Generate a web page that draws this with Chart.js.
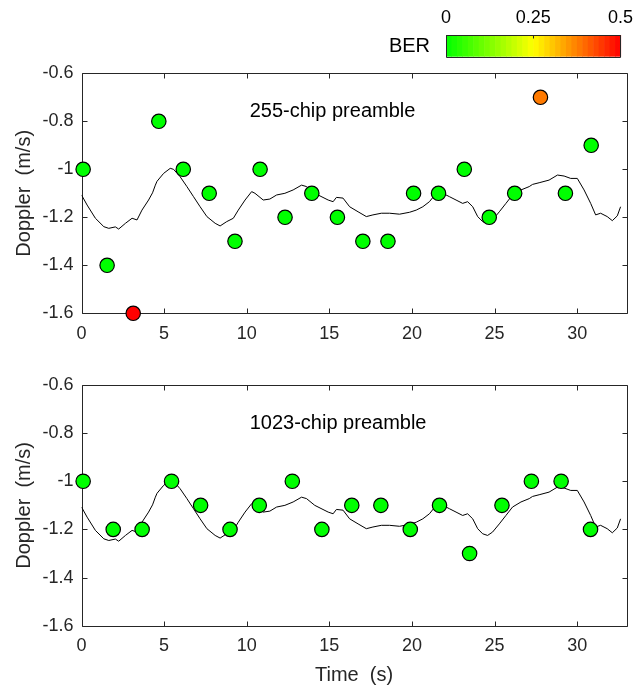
<!DOCTYPE html>
<html><head><meta charset="utf-8">
<script src="https://cdn.jsdelivr.net/npm/chart.js@4.4.0/dist/chart.umd.min.js"></script>
<style>
html,body{margin:0;padding:0;background:#fff;}
#wrap{position:relative;width:639px;height:688px;overflow:hidden;background:#fff;}
canvas{position:absolute;left:0;}
</style></head><body>
<div id="wrap">
<canvas id="cb" width="639" height="62" style="top:0px"></canvas>
<canvas id="c1" width="639" height="300" style="top:50px"></canvas>
<canvas id="c2" width="639" height="348" style="top:340px"></canvas>
</div>
<script>
// ---- data ----
const xTicks = [0, 5, 10, 15, 20, 25, 30];
const xTickLabels = ['0', '5', '10', '15', '20', '25', '30'];
const yTicks = [-1.6, -1.4, -1.2, -1, -0.8, -0.6];
const yTickLabels = ['-1.6', '-1.4', '-1.2', '-1', '-0.8', '-0.6'];
const berTicks = [0, 0.25, 0.5];
const berTickLabels = ['0', '0.25', '0.5'];

// estimated Doppler trace (black line), same in both panels
const dopplerTime = [0, 0.34, 0.84, 1.35, 1.65, 2.05, 2.25, 2.66, 3.06, 3.36, 3.66, 4.06, 4.3, 4.47, 4.57, 4.97, 5.37, 5.57, 5.97, 6.38, 6.78, 7.18, 7.59, 8.09, 8.39, 8.79, 9.19, 9.49, 9.9, 10.3, 10.5, 11.0, 11.4, 11.81, 12.31, 12.81, 13.32, 13.62, 14.12, 14.93, 15.23, 15.43, 15.83, 16.23, 16.74, 17.24, 17.64, 18.15, 18.65, 19.25, 19.86, 20.26, 20.66, 21.06, 21.47, 21.87, 22.27, 22.67, 23.07, 23.37, 23.68, 23.98, 24.28, 24.58, 24.88, 25.29, 25.69, 26.09, 26.6, 27.1, 27.3, 27.7, 28.3, 28.81, 29.21, 29.61, 30.01, 30.42, 30.82, 31.12, 31.42, 31.82, 32.13, 32.43, 32.63];
const dopplerValue = [-1.107, -1.149, -1.204, -1.239, -1.246, -1.240, -1.249, -1.225, -1.204, -1.211, -1.170, -1.128, -1.098, -1.066, -1.050, -1.017, -0.996, -1.000, -1.031, -1.072, -1.114, -1.156, -1.197, -1.225, -1.236, -1.218, -1.204, -1.170, -1.128, -1.093, -1.100, -1.128, -1.124, -1.107, -1.100, -1.086, -1.066, -1.072, -1.100, -1.128, -1.135, -1.117, -1.120, -1.156, -1.177, -1.197, -1.190, -1.183, -1.183, -1.187, -1.179, -1.170, -1.156, -1.135, -1.100, -1.100, -1.114, -1.128, -1.142, -1.135, -1.156, -1.197, -1.218, -1.225, -1.211, -1.177, -1.142, -1.107, -1.086, -1.072, -1.063, -1.056, -1.045, -1.024, -1.028, -1.038, -1.038, -1.086, -1.142, -1.190, -1.183, -1.197, -1.214, -1.194, -1.156];

// 255-chip preamble estimates
const time255 = [0.10, 1.55, 3.13, 4.68, 6.16, 7.73, 9.29, 10.81, 12.32, 13.94, 15.49, 17.03, 18.55, 20.10, 21.61, 23.17, 24.68, 26.22, 27.78, 29.29, 30.85];
const doppler255 = [-1, -1.4, -1.6, -0.8, -1, -1.1, -1.3, -1, -1.2, -1.1, -1.2, -1.3, -1.3, -1.1, -1.1, -1, -1.2, -1.1, -0.7, -1.1, -0.9];
const ber255 = [0, 0, 0.5, 0, 0, 0, 0, 0, 0, 0, 0, 0, 0, 0, 0, 0, 0, 0, 0.38, 0, 0];

// 1023-chip preamble estimates
const time1023 = [0.10, 1.92, 3.67, 5.45, 7.21, 8.99, 10.76, 12.76, 14.55, 16.36, 18.12, 19.90, 21.67, 23.49, 25.45, 27.23, 29.03, 30.81];
const doppler1023 = [-1, -1.2, -1.2, -1, -1.1, -1.2, -1.1, -1, -1.2, -1.1, -1.1, -1.2, -1.1, -1.3, -1.1, -1, -1, -1.2];
const ber1023 = [0, 0, 0, 0, 0, 0, 0, 0, 0, 0, 0, 0, 0, 0, 0, 0, 0, 0];

const panelLabels = ['255-chip preamble', '1023-chip preamble'];
const panelLabelPos = [10, -0.76]; // data coords (time, doppler)

// ---- styling / helpers ----
const FONT = "'Liberation Sans', Arial, Helvetica, sans-serif";
const AXC = '#262626';
Chart.defaults.font.family = FONT;
Chart.defaults.color = AXC;

function berColor(b) {
  let r, g;
  if (b <= 0.25) { r = 255 * b / 0.25; g = 255; }
  else { r = 255; g = 255 * (1 - (b - 0.25) / 0.25); }
  r = Math.max(0, Math.min(255, Math.round(r)));
  g = Math.max(0, Math.min(255, Math.round(g)));
  return `rgb(${r},${g},0)`;
}
function toXY(xs, ys) { return xs.map((x, i) => ({x: x, y: ys[i]})); }

const framePlugin = {
  id: 'frame',
  beforeDatasetsDraw(chart) {
    const {ctx, chartArea: a, scales: {x, y}} = chart;
    const L = Math.round(a.left) + 0.5, R = Math.round(a.right) + 0.5;
    const T = Math.round(a.top) + 0.5, B = Math.round(a.bottom) + 0.5;
    ctx.save();
    ctx.strokeStyle = AXC; ctx.lineWidth = 1;
    ctx.beginPath();
    ctx.rect(L, T, R - L, B - T);
    const tl = 5;
    xTicks.forEach(v => {
      const px = Math.round(x.getPixelForValue(v)) + 0.5;
      ctx.moveTo(px, B); ctx.lineTo(px, B - tl);
      ctx.moveTo(px, T); ctx.lineTo(px, T + tl);
    });
    yTicks.forEach(v => {
      const py = Math.round(y.getPixelForValue(v)) + 0.5;
      ctx.moveTo(L, py); ctx.lineTo(L + tl, py);
      ctx.moveTo(R, py); ctx.lineTo(R - tl, py);
    });
    ctx.stroke();
    ctx.restore();
  },
  afterDatasetsDraw(chart, args, opts) {
    const {ctx, scales: {x, y}} = chart;
    ctx.save();
    ctx.font = '20px ' + FONT;
    ctx.fillStyle = '#000';
    ctx.textAlign = 'left';
    ctx.textBaseline = 'middle';
    ctx.fillText(opts.label, x.getPixelForValue(panelLabelPos[0]) + 3, y.getPixelForValue(panelLabelPos[1]));
    ctx.restore();
  }
};

function makePanel(id, times, vals, bers, label, pad, xHeight, showXTitle) {
  return new Chart(document.getElementById(id), {
    type: 'scatter',
    data: {
      datasets: [
        {
          data: toXY(times, vals),
          pointRadius: 7.2,
          pointHoverRadius: 7.2,
          pointBackgroundColor: bers.map(berColor),
          pointBorderColor: '#000',
          pointBorderWidth: 1.2,
          showLine: false,
          clip: false,
          order: 0
        },
        {
          data: toXY(dopplerTime, dopplerValue),
          showLine: true,
          borderColor: '#000',
          borderWidth: 1,
          pointRadius: 0,
          tension: 0,
          fill: false,
          order: 1
        }
      ]
    },
    options: {
      responsive: false,
      animation: false,
      devicePixelRatio: 1,
      layout: {padding: pad},
      plugins: {legend: {display: false}, tooltip: {enabled: false}, frame: {label: label}},
      scales: {
        x: {
          type: 'linear', min: 0, max: 33, position: 'bottom',
          grid: {display: false, drawTicks: false, tickLength: 0},
          border: {display: false},
          afterBuildTicks: s => { s.ticks = xTicks.map(v => ({value: v})); },
          afterFit: s => { s.height = xHeight; },
          ticks: {
            padding: 10, color: AXC, font: {size: 18},
            callback: v => xTickLabels[xTicks.indexOf(v)]
          },
          title: {display: showXTitle, text: 'Time  (s)', color: AXC, font: {size: 20}, padding: {top: 0, bottom: 1}}
        },
        y: {
          type: 'linear', min: -1.6, max: -0.6,
          grid: {display: false, drawTicks: false, tickLength: 0},
          border: {display: false},
          afterBuildTicks: s => { s.ticks = yTicks.map(v => ({value: v})); },
          afterFit: s => { s.width = 81.5; },
          ticks: {
            padding: 8, color: AXC, font: {size: 18},
            callback: v => yTickLabels[yTicks.indexOf(v)]
          },
          title: {display: true, text: 'Doppler  (m/s)', color: AXC, font: {size: 20}, padding: {top: 12, bottom: 0}}
        }
      }
    },
    plugins: [framePlugin]
  });
}

// chart areas: panel 1 y 73.3..313.3, panel 2 y 385..625.7 (page coords)
makePanel('c1', time255, doppler255, ber255, panelLabels[0], {left: 0, right: 12.3, top: 23.3, bottom: 0}, 36.7, false);
makePanel('c2', time1023, doppler1023, ber1023, panelLabels[1], {left: 0, right: 12.3, top: 45, bottom: 0}, 62.3, true);

// ---- colour bar ----
const cbPlugin = {
  id: 'cbar',
  beforeDatasetsDraw(chart) {
    const {ctx, chartArea: a, scales: {x}} = chart;
    const n = 32;
    ctx.save();
    for (let i = 0; i < n; i++) {
      const b0 = 0.5 * i / n, b1 = 0.5 * (i + 1) / n;
      const p0 = x.getPixelForValue(b0), p1 = x.getPixelForValue(b1);
      ctx.fillStyle = berColor((b0 + b1) / 2);
      ctx.fillRect(p0, a.top, p1 - p0 + 0.6, a.bottom - a.top);
    }
    const L = Math.round(a.left) + 0.5, R = Math.round(a.right) + 0.5;
    const T = Math.round(a.top) + 0.5, B = Math.round(a.bottom) + 0.5;
    ctx.strokeStyle = AXC; ctx.lineWidth = 1;
    ctx.beginPath();
    ctx.rect(L, T, R - L, B - T);
    berTicks.forEach(v => {
      const px = Math.round(x.getPixelForValue(v)) + 0.5;
      ctx.moveTo(px, T); ctx.lineTo(px, T + 3);
    });
    ctx.stroke();
    ctx.font = '20px ' + FONT;
    ctx.fillStyle = '#000';
    ctx.textAlign = 'right';
    ctx.textBaseline = 'middle';
    ctx.fillText('BER', a.left - 16, (a.top + a.bottom) / 2 + 1);
    ctx.restore();
  }
};
new Chart(document.getElementById('cb'), {
  type: 'scatter',
  data: {datasets: [{data: []}]},
  options: {
    responsive: false, animation: false, devicePixelRatio: 1,
    layout: {padding: {left: 446, right: 13.3, top: 0, bottom: 5.3}},
    plugins: {legend: {display: false}, tooltip: {enabled: false}},
    scales: {
      x: {
        type: 'linear', min: 0, max: 0.5, position: 'top',
        grid: {display: false, drawTicks: false, tickLength: 0},
        border: {display: false},
        afterBuildTicks: s => { s.ticks = berTicks.map(v => ({value: v})); },
        afterFit: s => { s.height = 35; },
        ticks: {padding: 6, color: '#000', font: {size: 18}, callback: v => berTickLabels[berTicks.indexOf(v)]}
      },
      y: {display: false, min: 0, max: 1}
    }
  },
  plugins: [cbPlugin]
});
</script>
</body></html>
